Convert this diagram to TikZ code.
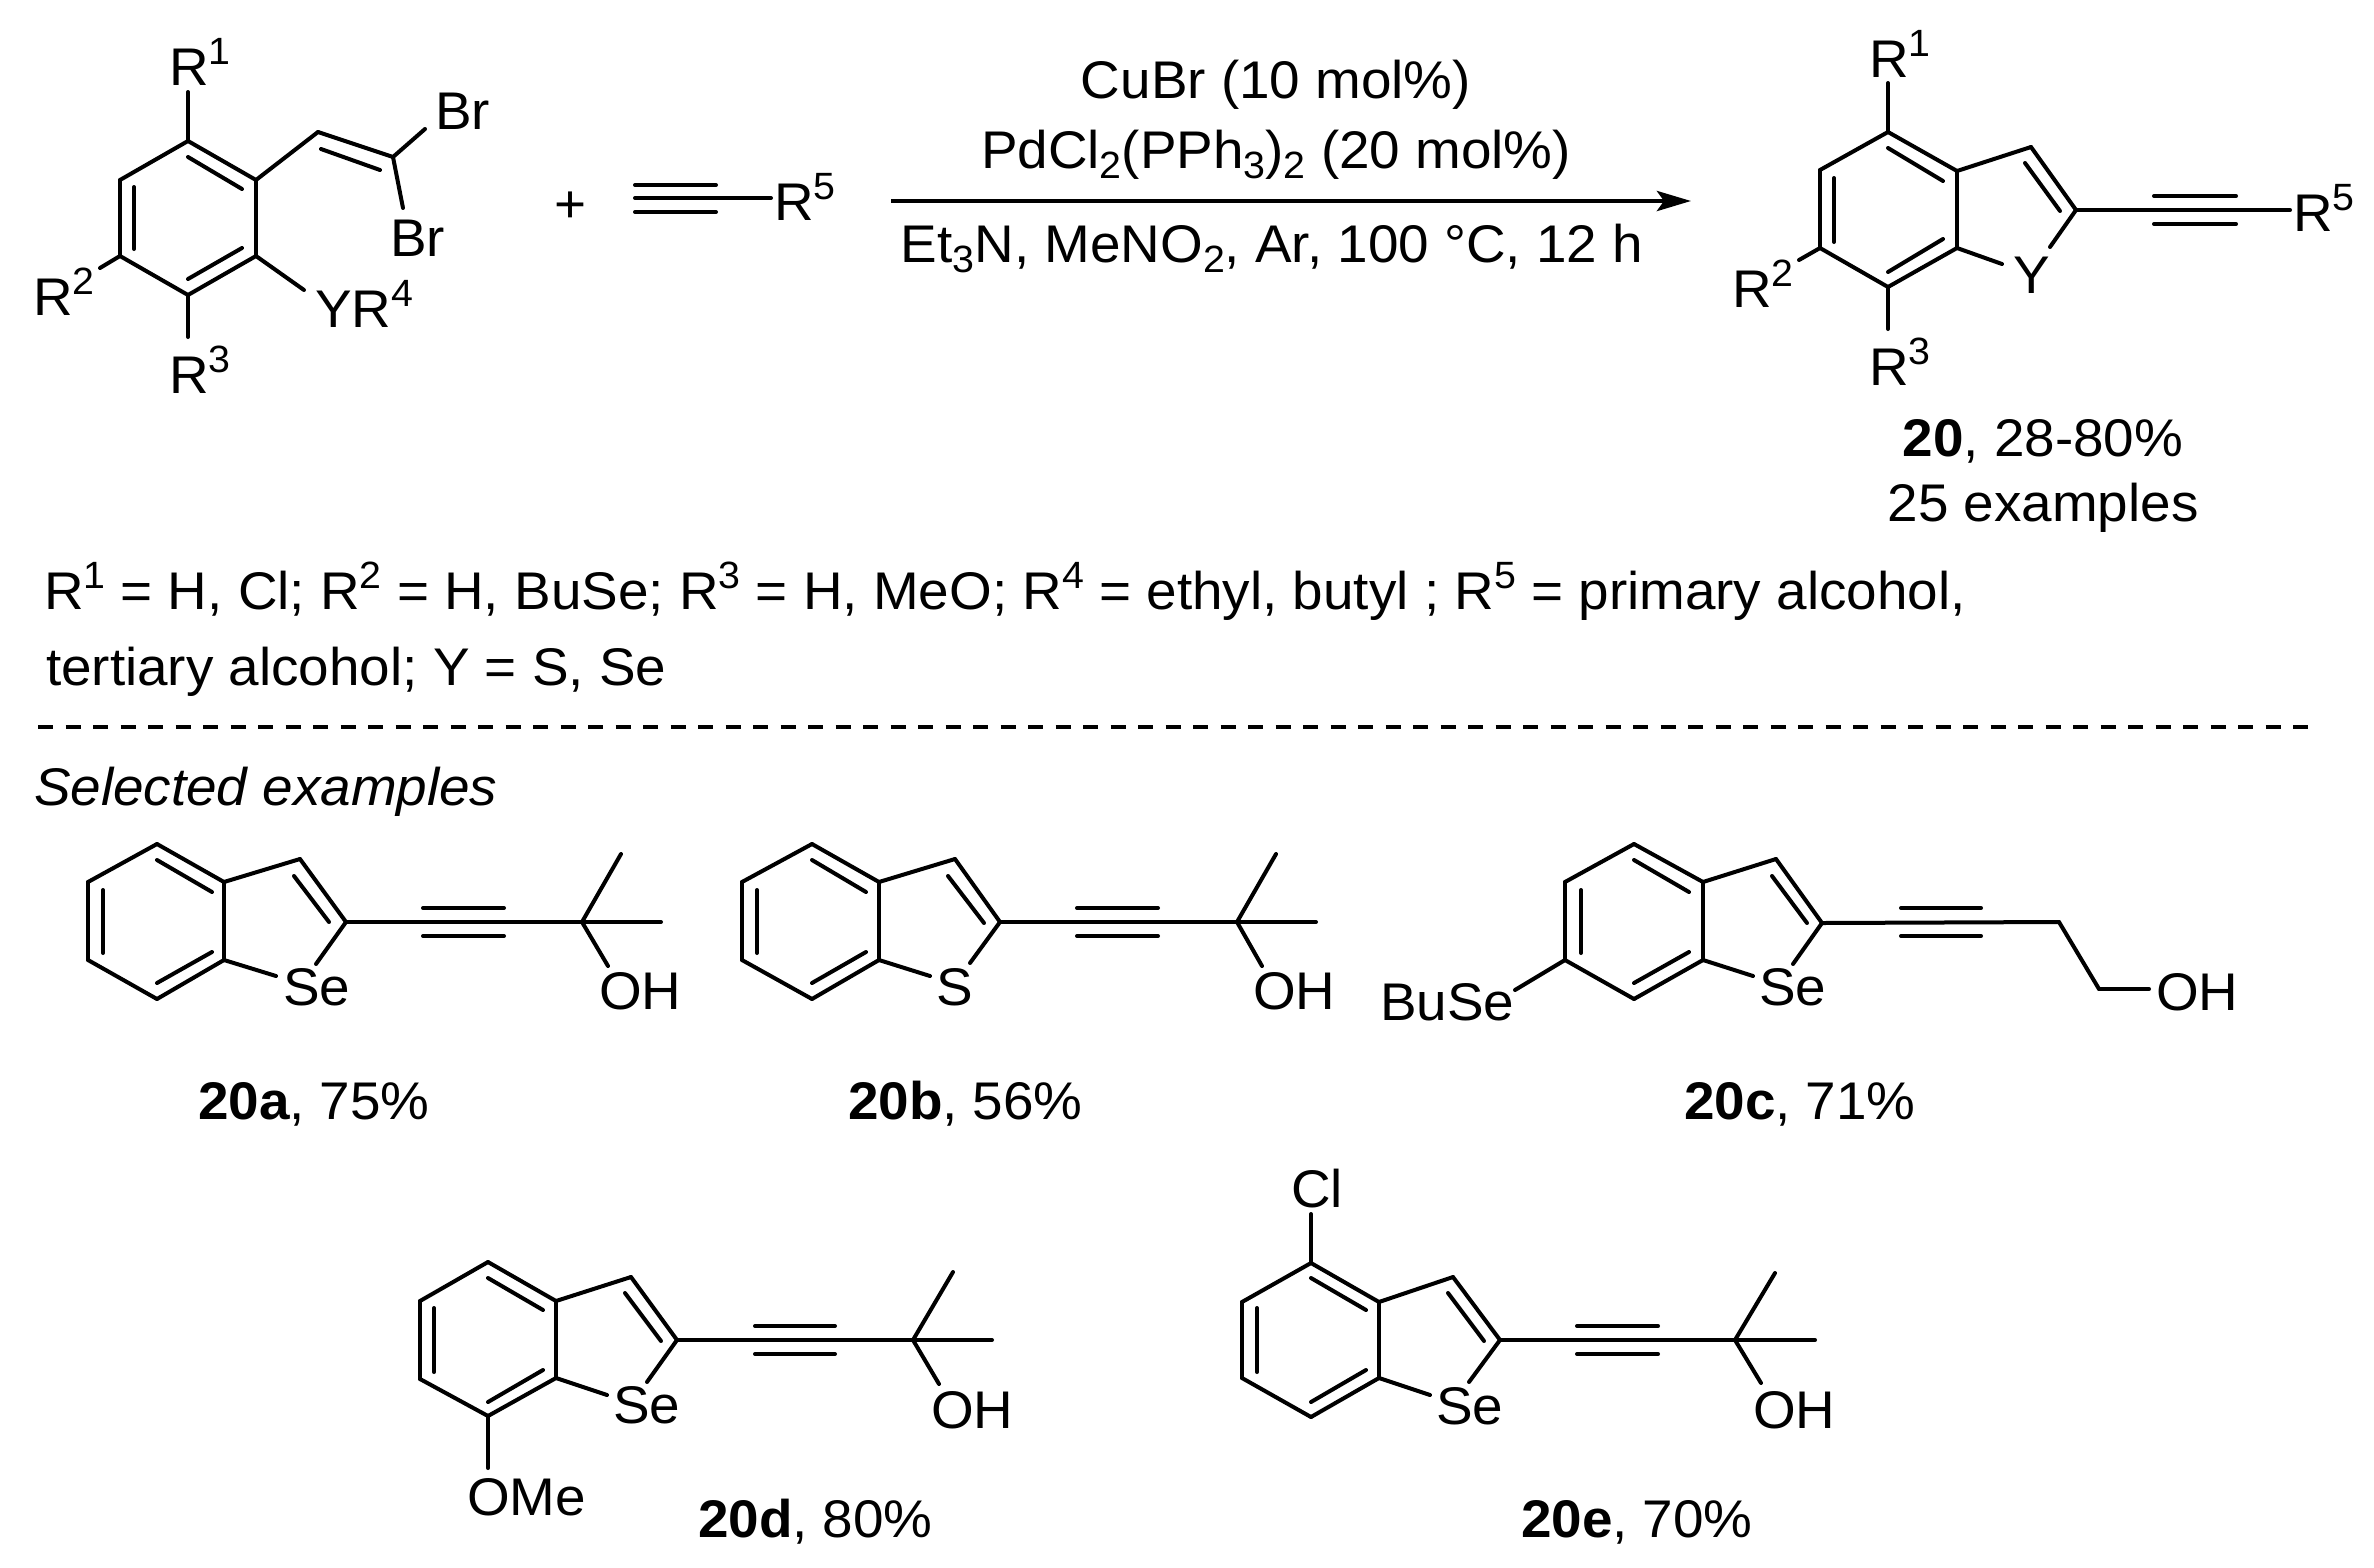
\documentclass[tikz,border=0pt]{standalone}
\usepackage{fontspec}
\setmainfont[FakeStretch=1.035]{Liberation Sans}
\usetikzlibrary{arrows.meta}
\newcommand\up[1]{\raisebox{21pt}{\fontsize{38}{38}\selectfont #1}}
\newcommand\dn[1]{\raisebox{-10pt}{\fontsize{38}{38}\selectfont #1}}
\tikzset{
  bond/.style={line width=4pt,line cap=round,line join=round,black},
  lbl/.style={anchor=base west,inner sep=0pt,outer sep=0pt,font=\fontsize{53}{60}\selectfont},
  ctext/.style={lbl,anchor=base},
  rxnarrow/.style={line width=4.6pt,-{Stealth[length=34pt,width=20pt,inset=7pt]}},
  dashline/.style={line width=4pt,dash pattern=on 15pt off 12.5pt}
}
\begin{document}
\begin{tikzpicture}[x=1pt,y=-1pt]
\useasboundingbox (0,0) rectangle (2374,1567);
\fill[white] (0,0) rectangle (2374,1567);
% ---------- substrate
\foreach \n/\x/\y in {a1/188/141,a2/256/180,a3/256/256,a4/188/295,a5/120/256,a6/120/180,
  ai1/188/157,ai2/242/189,ai3/134/187,ai4/134/249,ai5/188/279,ai6/242/248,
  ar1/188/92,ar2/100/268,ar3/188/337,ay/304/290,av1/318/132,av2/393/157,avi1/321/149,avi2/380/170,
  abr1/425/129,abr2/403/208,
  p1/635/198,p2/771/198,p3/635/185,p4/716/185,p5/635/212,p6/716/212,
  arr1/891/201,arr2/1691/201}
  \coordinate (\n) at (\x,\y);
\foreach \a/\b in {a1/a2,a2/a3,a3/a4,a4/a5,a5/a6,a6/a1,ai1/ai2,ai3/ai4,ai5/ai6,a1/ar1,a5/ar2,a4/ar3,a3/ay,a2/av1,av1/av2,avi1/avi2,av2/abr1,av2/abr2,p1/p2,p3/p4,p5/p6}
  \draw[bond] (\a)--(\b);
\node[lbl] (tR1) at (169,85) {R\up{1}};
\node[lbl] (tBr1) at (435,129) {Br};
\node[lbl] (tBr2) at (390,256) {Br};
\node[lbl] (tR2) at (33,315) {R\up{2}};
\node[lbl] (tR3) at (169,393) {R\up{3}};
\node[lbl] (tYR) at (315,327) {YR\up{4}};
\node[lbl] (tplus) at (554,222) {+};
\node[lbl] (tR5) at (774,220) {R\up{5}};
% ---------- reaction
\draw[rxnarrow] (arr1)--(arr2);
\node[ctext] (c1) at (1276,98) {CuBr (10 mol\%)};
\node[ctext] (c2) at (1276,168) {PdCl\dn{2}(PPh\dn{3})\dn{2} (20 mol\%)};
\node[ctext] (c3) at (1272,262) {Et\dn{3}N, MeNO\dn{2}, Ar, 100 °C, 12 h};
% ---------- product
\foreach \n/\x/\y in {b1/1888/132,b2/1957/171,b3/1957/248,b4/1888/287,b5/1820/248,b6/1820/170,
  bi1/1888/148,bi2/1943/181,bi3/1834/178,bi4/1834/242,bi5/1888/272,bi6/1943/239,
  b7/2031/147,b8/2076/210,bi7/2025/163,bi8/2060/211,bs1/2050/247,bs2/2002/264,
  bt/2290/210,bp1/2154/196,bp2/2236/196,bp3/2154/224,bp4/2236/224,
  br1/1888/83,br2/1799/260,br3/1888/329}
  \coordinate (\n) at (\x,\y);
\foreach \a/\b in {b1/b2,b2/b3,b3/b4,b4/b5,b5/b6,b6/b1,bi1/bi2,bi3/bi4,bi5/bi6,b2/b7,b7/b8,bi7/bi8,b8/bs1,b3/bs2,b8/bt,bp1/bp2,bp3/bp4,b1/br1,b5/br2,b4/br3}
  \draw[bond] (\a)--(\b);
\node[lbl] (pR1) at (1869,77) {R\up{1}};
\node[lbl] (pR2) at (1732,307) {R\up{2}};
\node[lbl] (pR3) at (1869,385) {R\up{3}};
\node[lbl] (pY) at (2013,293) {Y};
\node[lbl] (pR5) at (2293,231) {R\up{5}};
\node[ctext] (pn1) at (2043,456) {\textbf{20}, 28-80\%};
\node[ctext] (pn2) at (2043,521) {25 examples};
% ---------- definitions
\node[lbl] (def1) at (44,609) {R\up{1} = H, Cl; R\up{2} = H, BuSe; R\up{3} = H, MeO; R\up{4} = ethyl, butyl ; R\up{5} = primary alcohol,};
\node[lbl] (def2) at (46,685) {tertiary alcohol; Y = S, Se};
\coordinate (dl1) at (38,727);
\coordinate (dl2) at (2308,727);
\draw[dashline] (dl1)--(dl2);
\node[lbl,font=\fontsize{53}{60}\selectfont\itshape] (sel) at (34,805) {Selected examples};
% ---------- 20a
\foreach \n/\x/\y in {c1/157/844,c2/224/882,c3/224/960,c4/157/999,c5/88/960,c6/88/882,
  ci1/157/860,ci2/212/892,ci3/103/890,ci4/103/953,ci5/157/983,ci6/212/952,
  c7/300/859,c8/346/922,ci7/294/876,ci8/329/922,cs1/316/964,cs2/276/976,
  ct/582/922,cp1/423/908,cp2/504/908,cp3/423/936,cp4/504/936,
  cm1/621/854,cm2/661/922,co/608/966}
  \coordinate (\n) at (\x,\y);
\foreach \a/\b in {c1/c2,c2/c3,c3/c4,c4/c5,c5/c6,c6/c1,ci1/ci2,ci3/ci4,ci5/ci6,c2/c7,c7/c8,ci7/ci8,c8/cs1,c3/cs2,c8/ct,cp1/cp2,cp3/cp4,ct/cm1,ct/cm2,ct/co}
  \draw[bond] (\a)--(\b);
\node[lbl] (aSe) at (283,1005) {Se};
\node[lbl] (aOH) at (599,1009) {OH};
\node[lbl] (aT) at (198,1119) {\textbf{20a}, 75\%};
% ---------- 20b
\foreach \n/\x/\y in {d1a/812/844,d2a/879/882,d3a/879/960,d4a/812/999,d5a/742/960,d6a/742/882,
  di1/812/860,di2/866/892,di3/757/890,di4/757/953,di5/812/983,di6/866/952,
  d7/955/859,d8/1000/922,di7/948/876,di8/984/923,ds1/970/963,ds2/930/976,
  dt/1237/922,dp1/1077/908,dp2/1158/908,dp3/1077/936,dp4/1158/936,
  dm1/1276/854,dm2/1316/922,do/1262/966}
  \coordinate (\n) at (\x,\y);
\foreach \a/\b in {d1a/d2a,d2a/d3a,d3a/d4a,d4a/d5a,d5a/d6a,d6a/d1a,di1/di2,di3/di4,di5/di6,d2a/d7,d7/d8,di7/di8,d8/ds1,d3a/ds2,d8/dt,dp1/dp2,dp3/dp4,dt/dm1,dt/dm2,dt/do}
  \draw[bond] (\a)--(\b);
\node[lbl] (bS) at (936,1005) {S};
\node[lbl] (bOH) at (1253,1009) {OH};
\node[lbl] (bT) at (848,1119) {\textbf{20b}, 56\%};
% ---------- 20c
\foreach \n/\x/\y in {e1/1634/844,e2/1703/882,e3/1703/960,e4/1634/999,e5/1565/960,e6/1565/882,
  ei1/1634/860,ei2/1689/892,ei3/1581/890,ei4/1581/953,ei5/1634/983,ei6/1689/952,
  e7/1776/859,e8/1822/923,ei7/1772/876,ei8/1807/923,es1/1793/964,es2/1753/976,
  et/2059/922,ep1/1901/908,ep2/1981/908,ep3/1901/936,ep4/1981/936,
  eq/2099/989,eo/2149/989,eb/1515/990}
  \coordinate (\n) at (\x,\y);
\foreach \a/\b in {e1/e2,e2/e3,e3/e4,e4/e5,e5/e6,e6/e1,ei1/ei2,ei3/ei4,ei5/ei6,e2/e7,e7/e8,ei7/ei8,e8/es1,e3/es2,e8/et,ep1/ep2,ep3/ep4,et/eq,eq/eo,e5/eb}
  \draw[bond] (\a)--(\b);
\node[lbl] (cSe) at (1759,1005) {Se};
\node[lbl] (cOH) at (2156,1010) {OH};
\node[lbl] (cBu) at (1380,1020) {BuSe};
\node[lbl] (cT) at (1684,1119) {\textbf{20c}, 71\%};
% ---------- 20d
\foreach \n/\x/\y in {f1/488/1262,f2/556/1301,f3/556/1378,f4/488/1416,f5/420/1379,f6/420/1301,
  fi1/488/1278,fi2/543/1310,fi3/434/1308,fi4/434/1372,fi5/488/1402,fi6/543/1370,
  f7/631/1277,f8/677/1340,fi7/625/1293,fi8/661/1341,fs1/647/1382,fs2/607/1395,
  ft/913/1340,fp1/755/1326,fp2/835/1326,fp3/755/1354,fp4/835/1354,
  fm1/953/1272,fm2/992/1340,fo/939/1384,fb/488/1468}
  \coordinate (\n) at (\x,\y);
\foreach \a/\b in {f1/f2,f2/f3,f3/f4,f4/f5,f5/f6,f6/f1,fi1/fi2,fi3/fi4,fi5/fi6,f2/f7,f7/f8,fi7/fi8,f8/fs1,f3/fs2,f8/ft,fp1/fp2,fp3/fp4,ft/fm1,ft/fm2,ft/fo,f4/fb}
  \draw[bond] (\a)--(\b);
\node[lbl] (dSe) at (613,1423) {Se};
\node[lbl] (dOH) at (931,1428) {OH};
\node[lbl] (dOMe) at (467,1515) {OMe};
\node[lbl] (dT) at (698,1537) {\textbf{20d}, 80\%};
% ---------- 20e
\foreach \n/\x/\y in {g1/1311/1263,g2/1379/1302,g3/1379/1378,g4/1311/1417,g5/1242/1378,g6/1242/1302,
  gi1/1311/1278,gi2/1366/1310,gi3/1257/1308,gi4/1257/1372,gi5/1311/1402,gi6/1366/1370,
  g7/1453/1277,g8/1500/1340,gi7/1448/1293,gi8/1484/1341,gs1/1469/1382,gs2/1430/1395,
  gt/1735/1340,gp1/1577/1326,gp2/1658/1326,gp3/1577/1354,gp4/1658/1354,
  gm1/1775/1273,gm2/1815/1340,go/1761/1383,gb/1311/1214}
  \coordinate (\n) at (\x,\y);
\foreach \a/\b in {g1/g2,g2/g3,g3/g4,g4/g5,g5/g6,g6/g1,gi1/gi2,gi3/gi4,gi5/gi6,g2/g7,g7/g8,gi7/gi8,g8/gs1,g3/gs2,g8/gt,gp1/gp2,gp3/gp4,gt/gm1,gt/gm2,gt/go,g1/gb}
  \draw[bond] (\a)--(\b);
\node[lbl] (eSe) at (1436,1424) {Se};
\node[lbl] (eOH) at (1753,1428) {OH};
\node[lbl] (eCl) at (1291,1207) {Cl};
\node[lbl] (eT) at (1521,1537) {\textbf{20e}, 70\%};
\end{tikzpicture}
\end{document}
